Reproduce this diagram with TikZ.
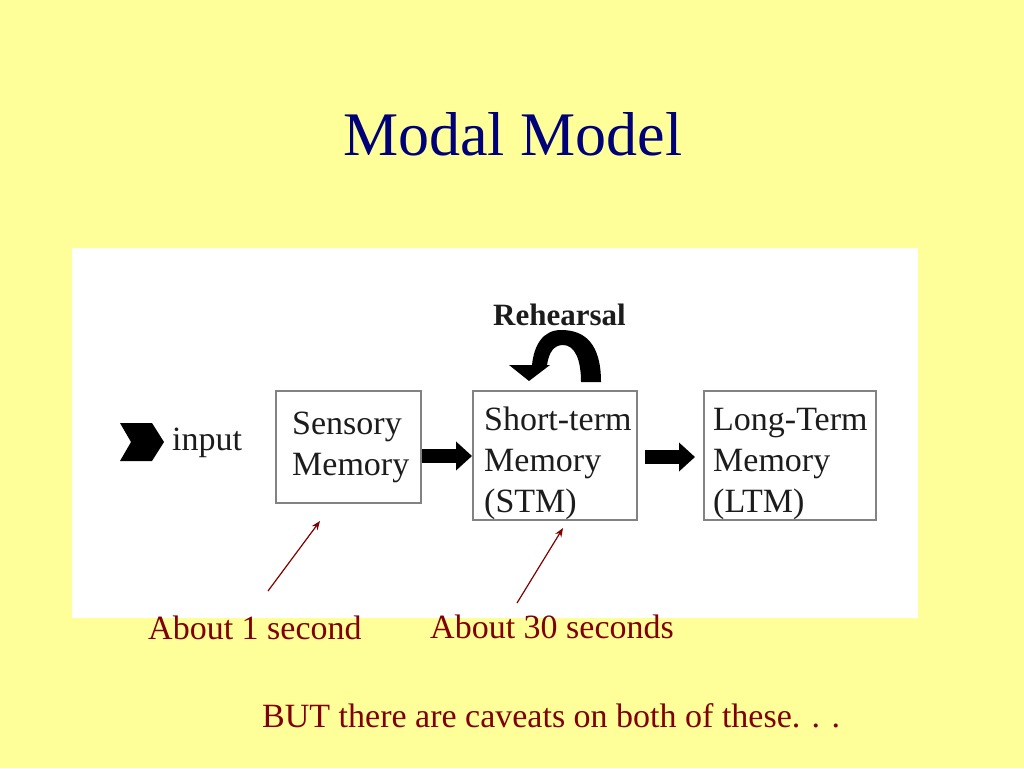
\documentclass[tikz,border=0pt]{standalone}
\usepackage{fontspec}
\setmainfont{Liberation Serif}
\usetikzlibrary{arrows.meta,calc}
\definecolor{bgyellow}{RGB}{255,255,153}
\definecolor{titlenavy}{RGB}{0,0,120}
\definecolor{maroon}{RGB}{128,0,0}
\definecolor{inkgrey}{RGB}{28,28,28}
\definecolor{boxgrey}{RGB}{130,130,130}
\tikzset{
  memorybox/.style={draw=boxgrey, line width=2pt, fill=white, anchor=north west, inner sep=0pt},
  boxtext/.style={anchor=base west, inner sep=0pt, align=left, text=inkgrey,
    font=\fontsize{34}{41}\selectfont},
  bigarr/.style={draw=black, line width=14pt, -{Triangle[width=28pt,length=16pt]}},
  notearr/.style={draw=maroon, line width=1.2pt, -{Stealth[width=7pt,length=9pt]}},
  notetext/.style={anchor=base west, inner sep=0pt, text=maroon, font=\fontsize{34}{40}\selectfont}
}
\begin{document}
\begin{tikzpicture}[x=1pt,y=-1pt]
\useasboundingbox (0,0) rectangle (1024,768);
\fill[bgyellow] (0,0) rectangle (1024,768);
\fill[white] (72,248) rectangle (918,618);

% title
\node[anchor=base west, inner sep=0pt, text=titlenavy, font=\fontsize{62}{70}\selectfont] (title) at (343,155) {Modal Model};

% boxes
\node[memorybox, minimum width=145pt, minimum height=112pt] (sm) at (275,390) {};
\node[memorybox, minimum width=164pt, minimum height=129pt] (stm) at (472,390) {};
\node[memorybox, minimum width=172pt, minimum height=129pt] (ltm) at (703,390) {};

% (the base anchor of a multi-line node is the baseline of its last line)
\node[boxtext] (smtext) at (292,475) {Sensory\\Memory};
\node[boxtext] (stmtext) at (484,512) {Short-term\\Memory\\(STM)};
\node[boxtext] (ltmtext) at (713,512) {Long-Term\\Memory\\(LTM)};

% input
\fill[black] (120,423) -- (152,423) -- (164,442) -- (152,461) -- (120,461) -- (131,442) -- cycle;
\node[anchor=base west, inner sep=0pt, text=inkgrey, font=\fontsize{34}{40}\selectfont] (input) at (172,450) {input};

% thick arrows
\coordinate (a1) at ([yshift=-9pt]sm.east);
\draw[bigarr] (a1) -- (a1 -| stm.west);
\coordinate (a2) at ([yshift=-1.5pt]stm.east);
\draw[bigarr, shorten <=7pt, shorten >=8pt] (a2) -- (a2 -| ltm.west);

% rehearsal loop
\node[anchor=base west, inner sep=0pt, text=inkgrey, font=\fontsize{31}{36}\selectfont\bfseries] (reh) at (493,325) {Rehearsal};
\begin{scope}[shift={(stm.north)}]
\fill[black] (46,-8) .. controls (46,-45) and (31,-60) .. (6,-60)
  .. controls (-12,-60) and (-21,-45) .. (-23,-25)
  -- (-46,-25) -- (-26,-9) -- (-5,-25) -- (-8,-25)
  .. controls (-6,-38) and (-1,-45) .. (8,-45)
  .. controls (20,-45) and (26,-30) .. (26,-8) -- cycle;
\end{scope}

% notes
\coordinate (n1s) at (268,591);
\coordinate (n1e) at (320,521);
\coordinate (n2s) at (517,603);
\coordinate (n2e) at (563,528);
\draw[notearr] (n1s) -- (n1e);
\draw[notearr] (n2s) -- (n2e);

\node[notetext] (t1) at (148,639) {About 1 second};
\node[notetext] (t2) at (430,638) {About 30 seconds};
\node[notetext] (t3) at (262,727) {BUT there are caveats on both of these. . .};
\end{tikzpicture}
\end{document}
